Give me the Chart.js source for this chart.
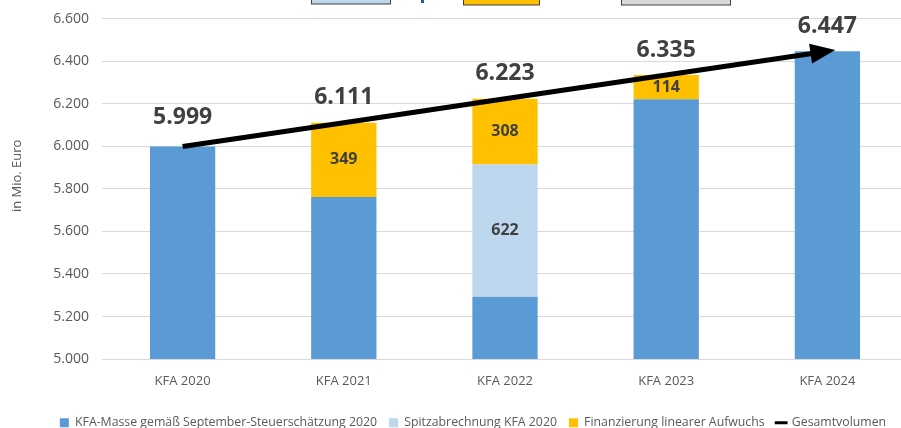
<!DOCTYPE html>
<html>
<head>
<meta charset="utf-8">
<script src="https://cdn.jsdelivr.net/npm/chart.js@4.4.1/dist/chart.umd.min.js"></script>
<style>
  html, body { margin: 0; padding: 0; background: #fff; overflow: hidden; }
  #wrap { width: 910px; height: 428px; }
</style>
</head>
<body>
<div id="wrap"><canvas id="myChart"></canvas></div>
<script>
const categories = ["KFA 2020", "KFA 2021", "KFA 2022", "KFA 2023", "KFA 2024"];
const kfaMasse = [5999, 5762, 5293, 6221, 6447];
const spitzabrechnung = [null, null, 622, null, null];
const aufwuchs = [null, 349, 308, 114, null];
const gesamt = [5999, 6111, 6223, 6335, 6447];
const yMin = 5000, yMax = 6600, yStep = 200;

const textColor = "#404040";
const axisColor = "#595959";

function fmt(v) {
  return String(v).replace(/\B(?=(\d{3})+(?!\d))/g, ".");
}

// cut-off boxes at the very top of the original picture + y axis title
const decorations = {
  id: "decorations",
  beforeDraw(chart) {
    const c = chart.ctx;
    c.save();
    c.lineWidth = 1;
    c.strokeStyle = "#404040";
    c.fillStyle = "#BDD7EE";
    c.fillRect(312, -2, 78, 6);
    c.strokeRect(311.5, -2, 79, 6);
    c.fillStyle = "#2F5597";
    c.fillRect(421, 0, 3, 3);
    c.fillStyle = "#FFC000";
    c.fillRect(464, -2, 75, 7);
    c.strokeRect(463.5, -2, 76, 7);
    c.fillStyle = "#D9D9D9";
    c.fillRect(622, -2, 108, 7);
    c.strokeRect(621.5, -2, 109, 7);

    const a = chart.chartArea;
    c.translate(17, (a.top + a.bottom) / 2 - 13);
    c.rotate(-Math.PI / 2);
    c.fillStyle = axisColor;
    c.font = "13px 'Open Sans'";
    c.textAlign = "center";
    c.textBaseline = "middle";
    c.fillText("in Mio. Euro", 0, 0);
    c.restore();
  },
};

const labelsAndArrow = {
  id: "labelsAndArrow",
  afterDatasetsDraw(chart) {
    const c = chart.ctx;
    c.save();
    // arrow head on the line
    const pts = chart.getDatasetMeta(3).data;
    const p1 = pts[pts.length - 2], p2 = pts[pts.length - 1];
    const ang = Math.atan2(p2.y - p1.y, p2.x - p1.x);
    const tipX = p2.x + Math.cos(ang) * 8, tipY = p2.y + Math.sin(ang) * 8;
    const len = 25, half = 10;
    const bx = tipX - Math.cos(ang) * len, by = tipY - Math.sin(ang) * len;
    c.fillStyle = "#000";
    c.beginPath();
    c.moveTo(tipX, tipY);
    c.lineTo(bx + Math.sin(ang) * half, by - Math.cos(ang) * half);
    c.lineTo(bx - Math.sin(ang) * half, by + Math.cos(ang) * half);
    c.closePath();
    c.fill();

    // segment labels
    c.fillStyle = textColor;
    c.textAlign = "center";
    c.textBaseline = "middle";
    c.font = "bold 16px 'Open Sans'";
    [1, 2].forEach((di) => {
      chart.getDatasetMeta(di).data.forEach((bar, i) => {
        const v = chart.data.datasets[di].data[i];
        if (v == null) return;
        c.fillText(fmt(v), bar.x, (bar.y + bar.base) / 2);
      });
    });

    // totals
    c.font = "bold 23px 'Open Sans'";
    const yScale = chart.scales.y;
    gesamt.forEach((v, i) => {
      const x = chart.getDatasetMeta(0).data[i].x;
      const y = yScale.getPixelForValue(v) - (i === 0 ? 29 : 25);
      c.fillText(fmt(v), x, y);
    });
    c.restore();
  },
};

new Chart(document.getElementById("myChart"), {
  data: {
    labels: categories,
    datasets: [
      {
        type: "bar",
        label: "KFA-Masse gemäß September-Steuerschätzung 2020",
        data: kfaMasse,
        backgroundColor: "#5B9BD5",
        stack: "bars",
        order: 1,
      },
      {
        type: "bar",
        label: "Spitzabrechnung KFA 2020",
        data: spitzabrechnung,
        backgroundColor: "#BDD7EE",
        stack: "bars",
        order: 1,
      },
      {
        type: "bar",
        label: "Finanzierung linearer Aufwuchs",
        data: aufwuchs,
        backgroundColor: "#FFC000",
        stack: "bars",
        order: 1,
      },
      {
        type: "line",
        label: "Gesamtvolumen",
        data: gesamt,
        borderColor: "#000",
        backgroundColor: "#000",
        borderWidth: 5,
        pointRadius: 0,
        stack: "line",
        order: 0,
      },
    ],
  },
  options: {
    responsive: true,
    maintainAspectRatio: false,
    animation: false,
    barPercentage: 0.405,
    categoryPercentage: 1,
    layout: { padding: { top: 2, right: 2, left: 38, bottom: -11 } },
    scales: {
      x: {
        stacked: true,
        grid: { display: false },
        border: { display: false },
        ticks: { color: axisColor, font: { family: "Open Sans", size: 13 }, padding: 6 },
        afterFit: (s) => { s.height += 10; },
      },
      y: {
        stacked: true,
        min: yMin,
        max: yMax,
        grid: { color: "#D9D9D9", drawTicks: false },
        border: { display: false },
        afterFit: (s) => { s.width = 64; },
        ticks: {
          stepSize: yStep,
          color: axisColor,
          font: { family: "Open Sans", size: 14, lineHeight: 0.8 },
          padding: 13,
          callback: (v) => fmt(v),
        },
      },
    },
    plugins: {
      tooltip: { enabled: false },
      legend: {
        position: "bottom",
        labels: {
          color: axisColor,
          font: { family: "Open Sans", size: 12.3 },
          usePointStyle: true,
          boxWidth: 9,
          boxHeight: 9,
          padding: 12,
          sort: (a, b) => a.datasetIndex - b.datasetIndex,
          generateLabels(chart) {
            const items = Chart.defaults.plugins.legend.labels.generateLabels(chart);
            items.forEach((it) => {
              if (it.datasetIndex === 3) {
                it.pointStyle = "line";
                it.lineWidth = 3;
                it.strokeStyle = "#000";
              } else {
                it.pointStyle = "rect";
                it.lineWidth = 0;
              }
            });
            return items;
          },
        },
      },
    },
  },
  plugins: [decorations, labelsAndArrow],
});
</script>
</body>
</html>
